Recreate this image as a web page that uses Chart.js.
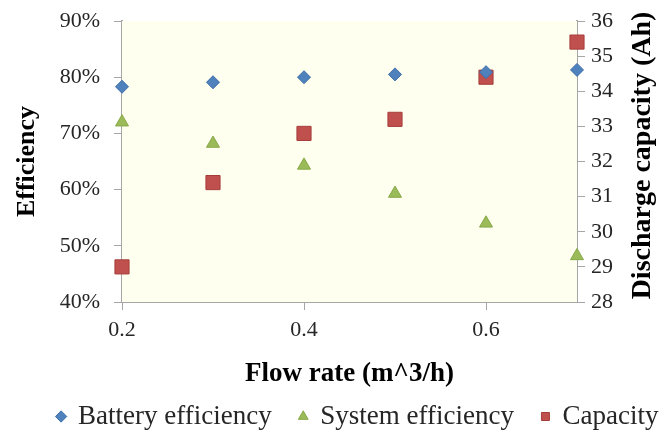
<!DOCTYPE html>
<html>
<head>
<meta charset="utf-8">
<script src="https://cdn.jsdelivr.net/npm/chart.js@4.4.0/dist/chart.umd.min.js"></script>
<style>
    html, body { margin: 0; padding: 0; background: #fff; }
    #wrap { width: 662px; height: 430px; }
</style>
</head>
<body>
<div id="wrap"><canvas id="flowChart"></canvas></div>
<script>
const flowRates = [0.2, 0.3, 0.4, 0.5, 0.6, 0.7];
const batteryEfficiency = [78.3, 79.1, 80.0, 80.5, 80.9, 81.3];
const systemEfficiency = [72.0, 68.2, 64.3, 59.3, 54.0, 48.2];
const capacity = [29.0, 31.4, 32.8, 33.2, 34.4, 35.4];
const xTicks = [0.2, 0.4, 0.6];

const serif = "'Liberation Serif', 'Times New Roman', serif";
const axisGray = '#a6a6a6';
const textColor = '#262626';

function points(values) {
    return values.map((v, i) => ({ x: flowRates[i], y: v }));
}

// cream fill behind the plot area
const plotBackground = {
    id: 'plotBackground',
    beforeDatasetsDraw(chart) {
        const { ctx, chartArea: a } = chart;
        ctx.save();
        ctx.fillStyle = '#fffff0';
        ctx.fillRect(a.left, a.top, a.right - a.left, a.bottom - a.top);
        ctx.restore();
    }
};

// right axis title reads bottom-to-top like the left one
const rightTitle = {
    id: 'rightTitle',
    afterDraw(chart) {
        const { ctx, chartArea: a } = chart;
        ctx.save();
        ctx.translate(643, (a.top + a.bottom) / 2 - 6);
        ctx.rotate(-Math.PI / 2);
        ctx.font = "bold 28px " + serif;
        ctx.fillStyle = '#000';
        ctx.textAlign = 'center';
        ctx.textBaseline = 'middle';
        ctx.fillText('Discharge capacity (Ah)', 0, 0);
        ctx.restore();
    }
};

// nudge the legend row to the right
const legendShift = {
    id: 'legendShift',
    afterLayout(chart) {
        chart.legend.left += 27;
        chart.legend.right += 27;
    }
};

function tickStyle() {
    return { family: serif, size: 22 };
}

// fixed side width, no extra room reserved above/below for the end labels
function sideFit(width) {
    return function(scale) {
        scale.width = width;
        scale.paddingTop = 0;
        scale.paddingBottom = 0;
    };
}

document.addEventListener("DOMContentLoaded", function() {
    const ctx = document.getElementById('flowChart');

    new Chart(ctx, {
        type: 'scatter',
        plugins: [plotBackground, rightTitle, legendShift],
        data: {
            datasets: [{
                    label: 'Battery efficiency',
                    data: points(batteryEfficiency),
                    yAxisID: 'y',
                    pointStyle: 'rectRot',
                    pointRadius: 6.5,
                    backgroundColor: '#4f81bd',
                    borderColor: '#3e6ea8',
                    borderWidth: 1
                },
                {
                    label: 'System efficiency',
                    data: points(systemEfficiency),
                    yAxisID: 'y',
                    pointStyle: 'triangle',
                    pointRadius: 7.5,
                    backgroundColor: '#9bbb59',
                    borderColor: '#86a846',
                    borderWidth: 1
                },
                {
                    label: 'Capacity',
                    data: points(capacity),
                    yAxisID: 'y1',
                    pointStyle: 'rect',
                    pointRadius: 10,
                    backgroundColor: '#c0504d',
                    borderColor: '#a53e3b',
                    borderWidth: 1
                }
            ]
        },
        options: {
            responsive: true,
            maintainAspectRatio: false,
            animation: false,
            clip: false,
            layout: {
                padding: { top: 21, left: 0, right: 0, bottom: -10 }
            },
            plugins: {
                tooltip: { enabled: false },
                legend: {
                    position: 'bottom',
                    labels: {
                        usePointStyle: true,
                        boxWidth: 7,
                        boxHeight: 8,
                        padding: 28,
                        color: textColor,
                        font: { family: serif, size: 27 }
                    }
                }
            },
            scales: {
                x: {
                    type: 'linear',
                    min: 0.2,
                    max: 0.7,
                    afterBuildTicks: function(scale) {
                        scale.ticks = xTicks.map(v => ({ value: v }));
                    },
                    afterFit: function(scale) {
                        scale.height = 73;
                    },
                    ticks: {
                        color: textColor,
                        font: tickStyle(),
                        padding: 7,
                        callback: v => v.toFixed(1)
                    },
                    grid: {
                        drawOnChartArea: false,
                        tickLength: 8,
                        color: axisGray
                    },
                    border: { color: axisGray, width: 2 },
                    title: {
                        display: true,
                        text: 'Flow rate (m^3/h)',
                        color: '#000',
                        font: { family: serif, size: 27, weight: 'bold' },
                        padding: { top: 0, bottom: -15 }
                    }
                },
                y: {
                    position: 'left',
                    min: 40,
                    max: 90,
                    afterFit: sideFit(122),
                    ticks: {
                        stepSize: 10,
                        color: textColor,
                        font: tickStyle(),
                        padding: 14,
                        callback: v => v + '%'
                    },
                    grid: {
                        drawOnChartArea: false,
                        tickLength: 8,
                        color: axisGray
                    },
                    border: { color: axisGray, width: 2 },
                    title: {
                        display: true,
                        text: 'Efficiency',
                        color: '#000',
                        font: { family: serif, size: 26, weight: 'bold' },
                        padding: { top: 12 }
                    }
                },
                y1: {
                    position: 'right',
                    min: 28,
                    max: 36,
                    afterFit: sideFit(85),
                    ticks: {
                        stepSize: 1,
                        color: textColor,
                        font: tickStyle(),
                        padding: 6
                    },
                    grid: {
                        drawOnChartArea: false,
                        tickLength: 8,
                        color: axisGray
                    },
                    border: { color: axisGray, width: 2 }
                }
            }
        }
    });
});
</script>
</body>
</html>
